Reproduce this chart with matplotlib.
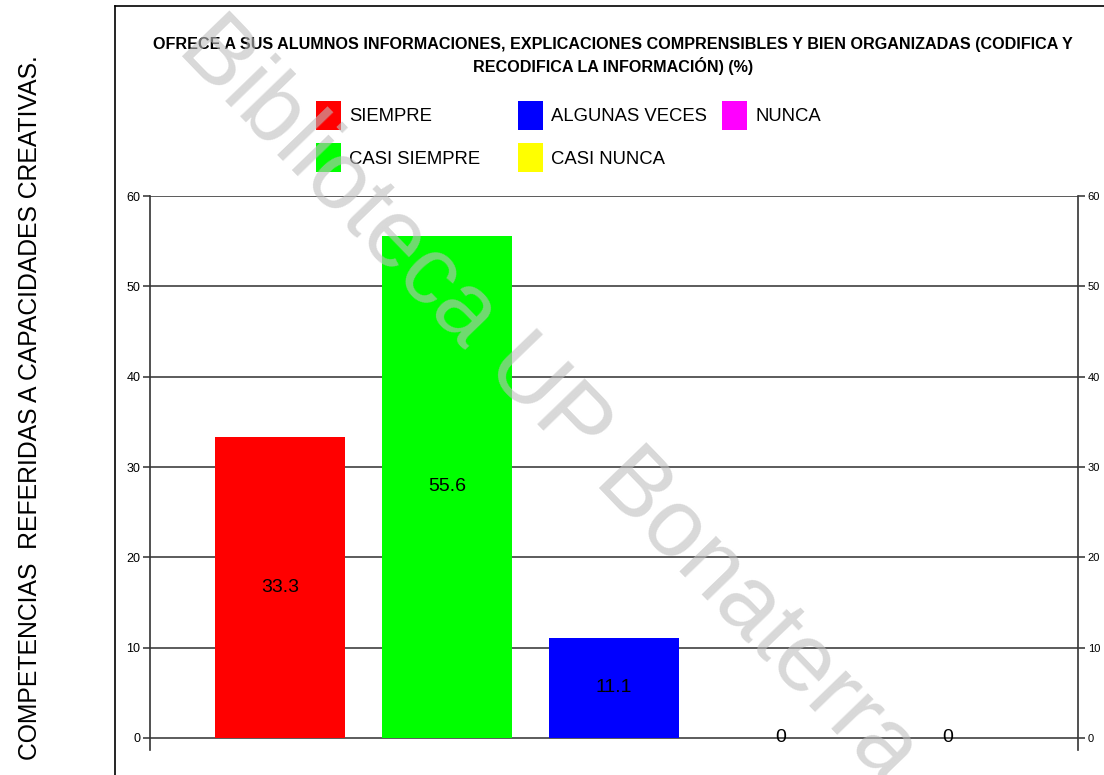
import numpy as np
import matplotlib
matplotlib.use('Agg')
import matplotlib.pyplot as plt
from matplotlib.lines import Line2D

# data
categorias = ['SIEMPRE', 'CASI SIEMPRE', 'ALGUNAS VECES', 'CASI NUNCA', 'NUNCA']
porcentajes = [33.3, 55.6, 11.1, 0, 0]
colores = ['#FF0000', '#00FF00', '#0000FF', '#FFFF00', '#FF00FF']
yticks = [0, 10, 20, 30, 40, 50, 60]
titulo = ('OFRECE A SUS ALUMNOS INFORMACIONES, EXPLICACIONES COMPRENSIBLES Y BIEN ORGANIZADAS (CODIFICA Y\n'
          'RECODIFICA LA INFORMACIÓN) (%)')
lateral = 'COMPETENCIAS  REFERIDAS A CAPACIDADES CREATIVAS.'
marca = 'Biblioteca UP Bonaterra'

plt.rcParams['font.family'] = ['Liberation Sans', 'DejaVu Sans']

W, H = 1104, 775
fig = plt.figure(figsize=(W / 100, H / 100), dpi=100)

# outer frame (left and top edges only visible)
fig.add_artist(Line2D([115 / W, 115 / W], [0, 1 - 6 / H], color='black', lw=1.2))
fig.add_artist(Line2D([115 / W, 1], [1 - 6 / H, 1 - 6 / H], color='black', lw=1.2))

ax = fig.add_axes([150 / W, 1 - 750 / H, (1078 - 150) / W, (750 - 196) / H])
x = np.arange(len(categorias))
barras = ax.bar(x, porcentajes, width=0.773, color=colores, label=categorias, zorder=2)
for xi, v in zip(x, porcentajes):
    ax.text(xi, v / 2, f'{v:g}', ha='center', va='center', fontsize=14, zorder=4)

ymin = -12 / ((738 - 196) / 60)
ax.set_ylim(ymin, 60)
ax.set_xlim(-0.5 - 46.5 / 167, len(categorias) - 0.5 + 46.5 / 167)
ax.set_xticks([])
ax.set_yticks(yticks)
ax.grid(axis='y', color='#404040', lw=1.2, zorder=0)
ax.set_axisbelow(True)
for s in ['top', 'bottom']:
    ax.spines[s].set_visible(False)
for s in ['left', 'right']:
    ax.spines[s].set_color('#333333')
    ax.spines[s].set_linewidth(1.2)
ax.tick_params(axis='y', length=5, width=1.2, color='#404040', pad=2,
               left=True, right=True, labelleft=True, labelright=False, labelsize=9)

ax2 = ax.twinx()
ax2.set_ylim(ax.get_ylim())
ax2.set_yticks(yticks)
ax2.tick_params(axis='y', length=5, width=1.2, color='#404040', pad=2, labelsize=8)
for s in ax2.spines.values():
    s.set_visible(False)

# title
fig.text(613 / W, 1 - 56 / H, titulo, ha='center', va='center', fontsize=11.6,
         fontweight='bold', linespacing=1.35)

# legend, three columns
handles = list(barras.patches)
cols = [[0, 1], [2, 3], [4]]
col_x = [316, 518, 722]
for idx, cx in zip(cols, col_x):
    fig.legend([handles[i] for i in idx], [categorias[i] for i in idx],
               loc='upper left', bbox_to_anchor=(cx / W, 1 - 101 / H),
               frameon=False, borderpad=0, borderaxespad=0,
               handlelength=1.35, handleheight=2.0, handletextpad=0.45,
               labelspacing=0.75, fontsize=13.3)

# side label
fig.text(30 / W, 1 - 408 / H, lateral, rotation=90, ha='center', va='center',
         fontsize=17.8)

# watermark
fig.text(548 / W, 1 - 400 / H, marca, rotation=-46, rotation_mode='anchor',
         ha='center', va='center', fontsize=69, color='#bfbfbf', alpha=0.6, zorder=10)

fig.savefig('out.png', dpi=100)
